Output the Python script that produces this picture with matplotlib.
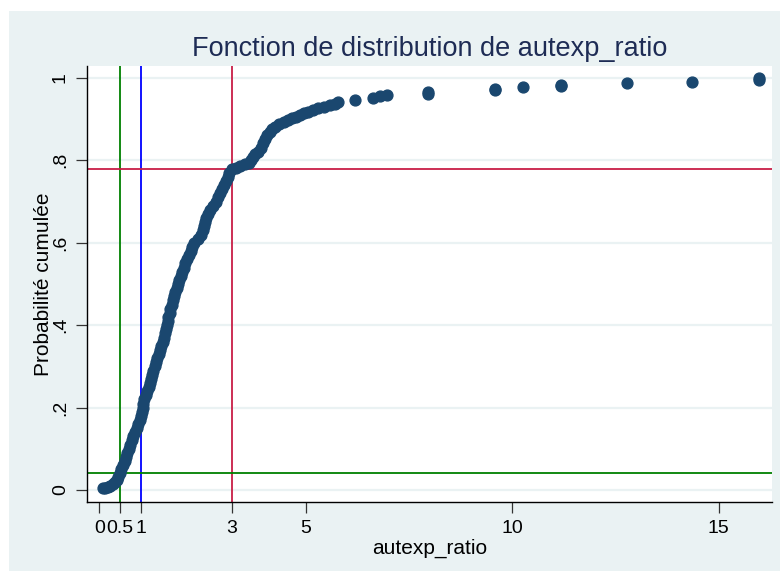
import matplotlib.pyplot as plt
from matplotlib.patches import Rectangle

plt.rcParams['font.family'] = ['Liberation Sans', 'DejaVu Sans']

# sorted autexp_ratio values and their cumulative probability
ratio = [0.08, 0.14, 0.20, 0.26, 0.32, 0.37, 0.42, 0.46, 0.50, 0.53,
         0.57, 0.61, 0.64, 0.67, 0.71, 0.74, 0.78, 0.82, 0.86, 0.90,
         0.94, 0.98, 1.01, 1.03, 1.05, 1.06, 1.08, 1.12, 1.16, 1.19,
         1.22, 1.25, 1.28, 1.31, 1.34, 1.37, 1.40, 1.44, 1.47, 1.50,
         1.53, 1.56, 1.59, 1.61, 1.63, 1.65, 1.67, 1.70, 1.72, 1.75,
         1.78, 1.81, 1.84, 1.87, 1.91, 1.94, 1.98, 2.01, 2.05, 2.08,
         2.13, 2.17, 2.21, 2.25, 2.30, 2.38, 2.46, 2.51, 2.54, 2.56,
         2.59, 2.63, 2.69, 2.76, 2.82, 2.87, 2.92, 2.97, 3.02, 3.07,
         3.11, 3.15, 3.20, 3.30, 3.40, 3.52, 3.63, 3.68, 3.73, 3.78,
         3.85, 3.92, 3.97, 4.01, 4.07, 4.13, 4.19, 4.25, 4.35, 4.46,
         4.56, 4.66, 4.76, 4.86, 4.96, 5.06, 5.18, 5.30, 5.45, 5.59,
         5.70, 5.79, 6.19, 6.63, 6.80, 6.97, 7.97, 7.97, 9.58, 9.58,
         10.27, 11.17, 11.17, 12.77, 14.36, 15.97, 15.97]
cumul = [0.004, 0.006, 0.008, 0.010, 0.014, 0.019, 0.024, 0.032, 0.041, 0.050,
         0.060, 0.070, 0.080, 0.090, 0.100, 0.110, 0.121, 0.130, 0.140, 0.150,
         0.160, 0.170, 0.180, 0.190, 0.200, 0.210, 0.220, 0.230, 0.240, 0.250,
         0.260, 0.270, 0.280, 0.290, 0.300, 0.310, 0.320, 0.330, 0.340, 0.350,
         0.360, 0.370, 0.380, 0.390, 0.400, 0.410, 0.420, 0.430, 0.440, 0.450,
         0.460, 0.470, 0.480, 0.490, 0.500, 0.510, 0.520, 0.530, 0.540, 0.550,
         0.560, 0.570, 0.580, 0.590, 0.600, 0.610, 0.620, 0.630, 0.640, 0.650,
         0.660, 0.670, 0.680, 0.690, 0.700, 0.710, 0.720, 0.730, 0.740, 0.750,
         0.760, 0.770, 0.778, 0.782, 0.786, 0.790, 0.794, 0.800, 0.809, 0.815,
         0.821, 0.831, 0.841, 0.853, 0.862, 0.870, 0.877, 0.882, 0.888, 0.894,
         0.898, 0.902, 0.906, 0.910, 0.914, 0.918, 0.922, 0.926, 0.930, 0.934,
         0.938, 0.942, 0.947, 0.951, 0.955, 0.959, 0.961, 0.967, 0.970, 0.974,
         0.977, 0.980, 0.984, 0.987, 0.991, 0.995, 1.000]

# reference lines: low cut, median, mean and their cumulative probabilities
x_low, x_med, x_mean = 0.5, 1.0, 3.2
p_low, p_mean = 0.041, 0.779

xticks = [0, 0.5, 1, 3.2, 5, 10, 15]
xticklabels = ['0', '0.5', '1', '3', '5', '10', '15']
yticks = [0, 0.2, 0.4, 0.6, 0.8, 1.0]
yticklabels = ['0', '.2', '.4', '.6', '.8', '1']

bg = '#EAF2F3'
navy = '#1A476F'

fig = plt.figure(figsize=(7.8, 5.71), dpi=100, facecolor='white')
fig.patches.append(Rectangle((9 / 780, 0), 1, 1 - 11 / 571, transform=fig.transFigure,
                             facecolor=bg, edgecolor='none', zorder=-10))
ax = fig.add_axes([87 / 780, 69 / 571, 685 / 780, 436 / 571])
ax.set_facecolor('white')

for y in yticks:
    ax.axhline(y, color=bg, lw=1.6, zorder=1)

ax.axvline(x_low, color='#008000', lw=1.3, zorder=2)
ax.axvline(x_med, color='#0000FF', lw=1.3, zorder=2)
ax.axvline(x_mean, color='#C81E46', lw=1.3, zorder=2)
ax.axhline(p_mean, color='#C81E46', lw=1.3, zorder=2)
ax.axhline(p_low, color='#008000', lw=1.3, zorder=2)

ax.plot(ratio, cumul, 'o', ms=7.8, color=navy, mec=navy, zorder=3)

ax.set_xlim(-0.30, 16.29)
ax.set_ylim(-0.029, 1.029)
ax.set_xticks(xticks)
ax.set_xticklabels(xticklabels, fontsize=14)
ax.set_yticks(yticks)
ax.set_yticklabels(yticklabels, fontsize=14, rotation=90, va='center')
ax.tick_params(axis='both', length=8, width=0.9, color='#333333', pad=5)

for s in ['top', 'right']:
    ax.spines[s].set_visible(False)
for s in ['left', 'bottom']:
    ax.spines[s].set_linewidth(1.0)
    ax.spines[s].set_color('black')

ax.set_xlabel('autexp_ratio', fontsize=15, labelpad=1)
ax.set_ylabel('Probabilité cumulée', fontsize=15, labelpad=-1)
fig.text(430 / 780, 1 - 56 / 571, 'Fonction de distribution de autexp_ratio',
         ha='center', va='baseline', fontsize=19.5, color='#1E2C55')

plt.savefig('out.png', dpi=100, facecolor=fig.get_facecolor())
